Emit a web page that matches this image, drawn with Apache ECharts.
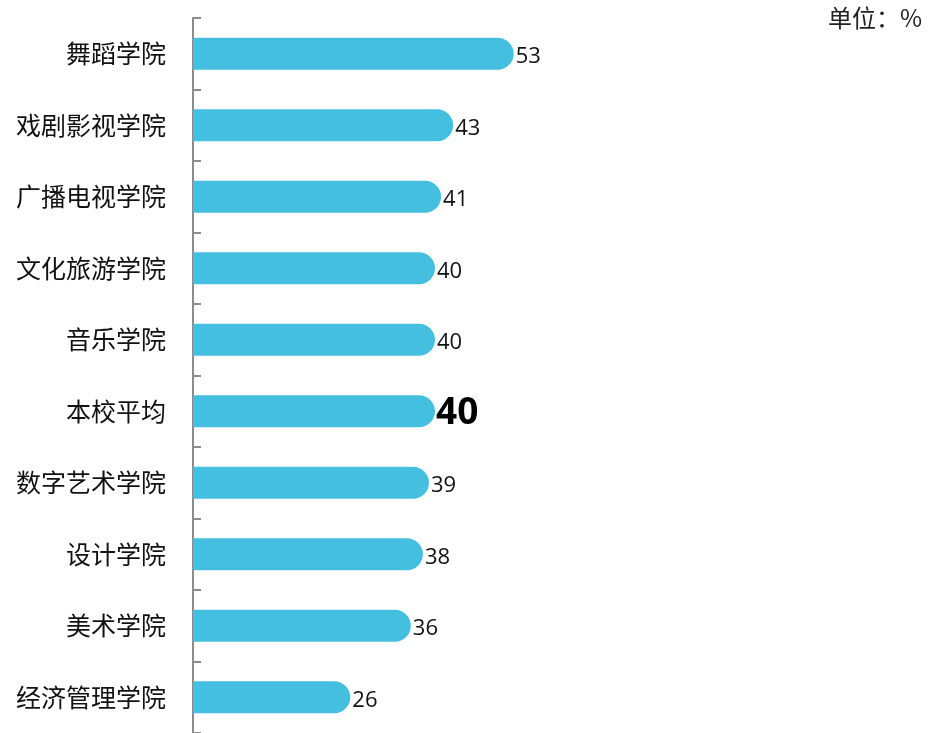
<!DOCTYPE html>
<html><head><meta charset="utf-8">
<script src="https://cdn.jsdelivr.net/npm/echarts@6/dist/echarts.min.js"></script>
<style>html,body{margin:0;padding:0;background:#fff}#c{width:931px;height:733px}</style>
</head><body><div id="c"></div>
<script>
const categories = ['舞蹈学院','戏剧影视学院','广播电视学院','文化旅游学院','音乐学院','本校平均','数字艺术学院','设计学院','美术学院','经济管理学院'];
const values = [53,43,41,40,40,40,39,38,36,26];
const highlight = '本校平均';
const unitText = '单位：%';

const chart = echarts.init(document.getElementById('c'), null, {renderer:'canvas'});
const data = values.map((v,i)=>{
  const item = {value:v};
  if (categories[i] === highlight) {
    item.label = {fontSize:37, fontWeight:'bold', color:'#000', distance:1, offset:[0,2]};
  }
  return item;
});
chart.setOption({
  animation:false,
  grid:{left:193, top:18, width:605, height:717, containLabel:false},
  graphic:[{type:'text', right:9, top:6, style:{text:unitText, font:'24px "Noto Sans CJK SC"', fill:'#222'}}],
  xAxis:{type:'value', min:0, max:100, show:false},
  yAxis:{type:'category', inverse:true, data:categories,
    axisLine:{show:true, lineStyle:{color:'#8c8c8c', width:2}},
    axisTick:{show:true, inside:true, length:8, lineStyle:{color:'#8c8c8c', width:2}},
    axisLabel:{margin:27, fontSize:25, color:'#111', fontFamily:'"Noto Sans CJK SC"'}
  },
  series:[{type:'bar', data:data, barWidth:32, z:1,
    itemStyle:{color:'#44BFDF', borderRadius:[0,16,16,0]},
    label:{show:true, position:'right', distance:2, fontSize:22, color:'#111', fontFamily:'"Open Sans"', offset:[0,3]}
  }]
});
</script></body></html>
